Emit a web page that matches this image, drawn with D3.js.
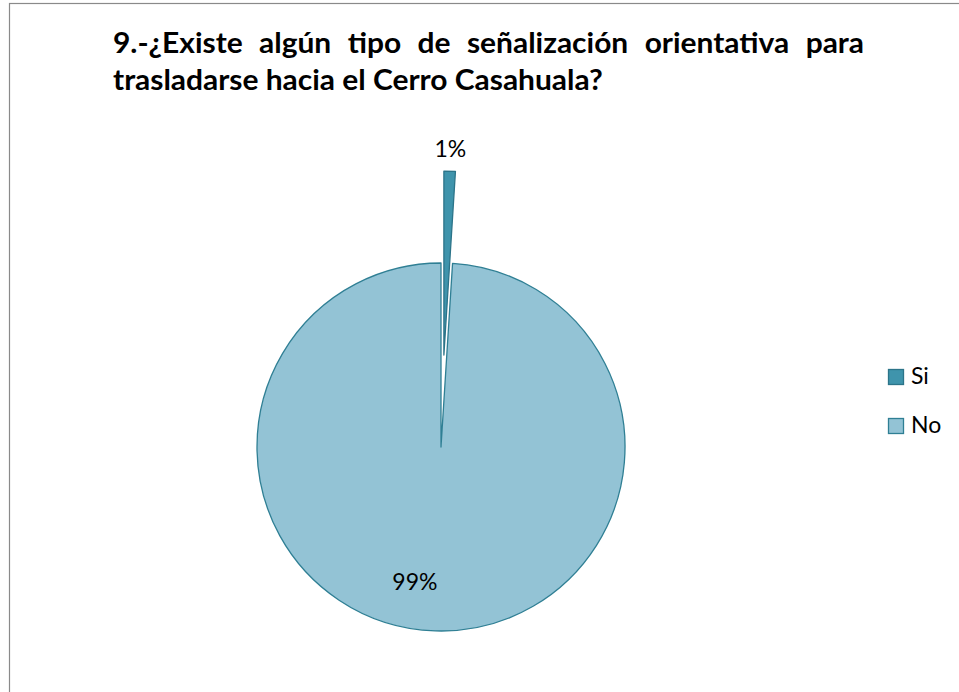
<!DOCTYPE html>
<html><head><meta charset="utf-8">
<script src="https://cdn.jsdelivr.net/npm/d3@7"></script>
<style>body{margin:0;background:#fff}</style></head>
<body>
<script>
// ---- data ----
const categories = ["Si", "No"];
const values = [1, 99];
const valueLabels = ["1%", "99%"];
const titleLines = ["9.-¿Existe algún tipo de señalización orientativa para",
                    "trasladarse hacia el Cerro Casahuala?"];
const fills = ["#3F94AC", "#93C3D5"];
const strokes = ["#2C7489", "#2F7F94"];

// ---- layout ----
const W = 959, H = 692;
const svg = d3.select("body").append("svg").attr("width", W).attr("height", H);
svg.append("rect").attr("x", 9.5).attr("y", 3.5).attr("width", W).attr("height", H)
  .attr("fill", "#fff").attr("stroke", "#8a8a8a").attr("stroke-width", 1.2);

const titleFont = "Lato, 'Open Sans', sans-serif";
const tx0 = 113, tx1 = 864, line2W = 490, titleSize = 28;
const probe = svg.append("text").attr("font-family", titleFont).attr("font-weight", "bold")
  .attr("font-size", titleSize).text(titleLines[1]);
const sx = line2W / probe.node().getComputedTextLength();
probe.remove();
const title = svg.append("g").attr("font-family", titleFont).attr("font-weight", "bold")
  .attr("font-size", titleSize).attr("fill", "#000")
  .attr("transform", `translate(${tx0},0) scale(${sx},1)`);
const words = titleLines[0].split(" ");
const wt = words.map(w => {
  const t = title.append("text").text(w);
  return {t, w: t.node().getComputedTextLength()};
});
const total = d3.sum(wt, d => d.w);
const gap = ((tx1 - tx0) / sx - total) / (words.length - 1);
let cx = 0;
wt.forEach(d => { d.t.attr("x", cx).attr("y", 53); cx += d.w + gap; });
title.append("text").attr("x", 0).attr("y", 90).text(titleLines[1]);

// ---- pie ----
const center = [441, 447], r = 184, explode = 0.5 * r;
const pie = d3.pie().sort(null).value(d => d)(values);
const arc = d3.arc().innerRadius(0).outerRadius(r);
const off = d => {
  if (d.index !== 0) return [0, 0];
  const m = (d.startAngle + d.endAngle) / 2;
  return [Math.sin(m) * explode, -Math.cos(m) * explode];
};
const g = svg.append("g").attr("transform", `translate(${center})`);
g.selectAll("path").data(pie).join("path")
  .attr("transform", d => `translate(${off(d)})`)
  .attr("d", arc)
  .attr("fill", (d, i) => fills[i])
  .attr("stroke", (d, i) => strokes[i])
  .attr("stroke-width", 1.3)
  .attr("stroke-linejoin", "round");

// labels
const labelFont = "Lato, 'Open Sans', sans-serif";
const outArc = d3.arc().innerRadius(r + 22).outerRadius(r + 22);
const labelPos = d => {
  const o = off(d);
  if (d.index === 0) {
    const c = outArc.centroid(d);
    return [c[0] + o[0], c[1] + o[1]];
  }
  const m = (d.startAngle + d.endAngle) / 2 + 0.16, rr = 0.747 * r;
  return [Math.sin(m) * rr, -Math.cos(m) * rr];
};
g.selectAll("text.lbl").data(pie).join("text").attr("class", "lbl")
  .attr("transform", d => `translate(${labelPos(d)})`)
  .attr("text-anchor", "middle").attr("dy", "0.35em")
  .attr("font-family", labelFont).attr("font-size", 23).attr("fill", "#000")
  .text((d, i) => valueLabels[i]);

// legend
const leg = svg.append("g").attr("transform", "translate(888.5,369.5)");
const li = leg.selectAll("g").data(categories).join("g")
  .attr("transform", (d, i) => `translate(0,${i * 49})`);
li.append("rect").attr("width", 15).attr("height", 15)
  .attr("fill", (d, i) => fills[i]).attr("stroke", (d, i) => strokes[i]).attr("stroke-width", 1.3);
li.append("text").attr("x", 22.5).attr("y", 14.5)
  .attr("font-family", labelFont).attr("font-size", 23).attr("fill", "#000").text(d => d);
</script>
</body></html>
